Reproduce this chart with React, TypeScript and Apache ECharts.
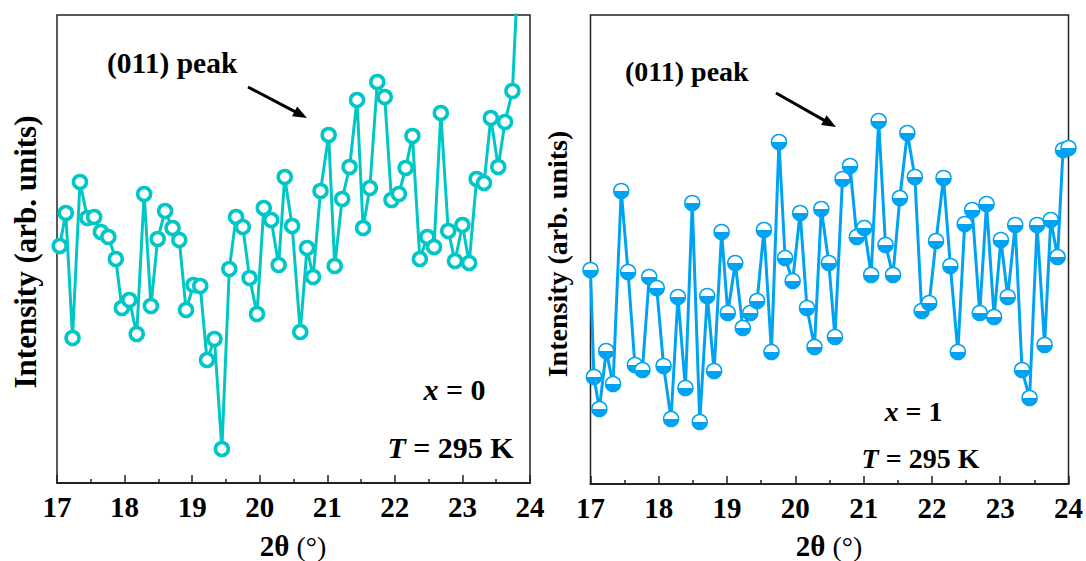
import React, { useEffect, useRef } from "react";
import * as echarts from "echarts";

// 2θ positions (degrees) and intensities (arb. units)
const angleX0 = [
  17.04, 17.13, 17.23, 17.34, 17.45, 17.55, 17.65, 17.76, 17.87, 17.96,
  18.07, 18.18, 18.29, 18.39, 18.49, 18.6, 18.71, 18.81, 18.91, 19.02,
  19.12, 19.22, 19.33, 19.44, 19.55, 19.65, 19.75, 19.85, 19.96, 20.06,
  20.17, 20.28, 20.37, 20.48, 20.6, 20.7, 20.79, 20.9, 21.02, 21.11,
  21.22, 21.33, 21.44, 21.53, 21.63, 21.74, 21.85, 21.95, 22.06, 22.16,
  22.26, 22.37, 22.48, 22.58, 22.68, 22.79, 22.89, 23.0, 23.1, 23.21,
  23.32, 23.42, 23.53, 23.63, 23.74, 23.84,
];
const intensityX0 = [
  237, 270, 145, 301, 265, 266, 251, 246, 224, 175,
  183, 149, 289, 177, 244, 272, 255, 243, 173, 198,
  197, 123, 144, 34, 214, 266, 256, 205, 169, 275,
  263, 218, 306, 257, 151, 235, 206, 292, 348, 217,
  284, 316, 383, 255, 295, 401, 386, 283, 289, 315,
  347, 224, 246, 236, 370, 252, 222, 258, 220, 304,
  300, 365, 316, 361, 392, 537,
];

const angleX1 = [
  17.0, 17.05, 17.13, 17.23, 17.33, 17.45, 17.55, 17.65, 17.76, 17.86,
  17.97, 18.07, 18.18, 18.28, 18.39, 18.49, 18.6, 18.71, 18.81, 18.92,
  19.01, 19.12, 19.23, 19.34, 19.44, 19.54, 19.65, 19.76, 19.85, 19.96,
  20.07, 20.17, 20.28, 20.38, 20.49, 20.58, 20.69, 20.8, 20.9, 21.01,
  21.11, 21.22, 21.32, 21.43, 21.53, 21.64, 21.75, 21.85, 21.96, 22.06,
  22.17, 22.27, 22.38, 22.48, 22.59, 22.7, 22.8, 22.91, 23.01, 23.11,
  23.22, 23.32, 23.43, 23.54, 23.65, 23.74, 23.84, 23.92, 24.0,
];
const intensityX1 = [
  214, 107, 75, 133, 100, 293, 212, 119, 114, 207,
  196, 118, 65, 187, 96, 281, 62, 188, 113, 252,
  171, 221, 156, 171, 183, 254, 132, 342, 226, 203,
  271, 176, 137, 275, 221, 147, 305, 318, 247, 256,
  209, 363, 239, 209, 286, 351, 307, 173, 181, 243,
  306, 218, 132, 260, 274, 171, 280, 167, 244, 187,
  259, 114, 86, 259, 139, 264, 227, 334, 336,
];

const xTickLabels = ["17", "18", "19", "20", "21", "22", "23", "24"];
const xName = "2θ";
const yName = "Intensity (arb. units)";
const peakLabel = "(011) peak";
const compLabels = ["0", "1"];
const tempLabel = "295 K";

const FONT = '"Liberation Serif", "Times New Roman", Times, serif';
const CYAN = "#00C6C6";
const BLUE = "#00A2F2";
const DARK = "#222";

function arrow(x1: number, y1: number, x2: number, y2: number) {
  const dx = x2 - x1;
  const dy = y2 - y1;
  const len = Math.sqrt(dx * dx + dy * dy);
  const ux = dx / len;
  const uy = dy / len;
  const hl = 14;
  const hw = 5.5;
  const bx = x2 - ux * hl;
  const by = y2 - uy * hl;
  return [
    {
      type: "line",
      shape: { x1, y1, x2: bx + ux * 2, y2: by + uy * 2 },
      style: { stroke: "#000", lineWidth: 3 },
    },
    {
      type: "polygon",
      shape: {
        points: [
          [x2, y2],
          [bx - uy * hw, by + ux * hw],
          [bx + uy * hw, by - ux * hw],
        ],
      },
      style: { fill: "#000" },
    },
  ];
}

function text(
  x: number,
  y: number,
  t: string,
  fs: number,
  align: string,
  rotation = 0,
  rich?: any
) {
  return {
    type: "text",
    x,
    y,
    rotation,
    style: {
      text: t,
      fontFamily: FONT,
      fontWeight: "bold",
      fontSize: fs,
      fill: "#000",
      align,
      verticalAlign: "middle",
      rich,
    },
  };
}

function xAxis(gridIndex: number) {
  return {
    type: "value",
    gridIndex,
    min: 17,
    max: 24,
    interval: 1,
    axisLine: { show: true, onZero: false, lineStyle: { color: DARK, width: 2 } },
    axisTick: { show: true, inside: true, length: 8, lineStyle: { color: DARK, width: 1.5 } },
    minorTick: { show: true, splitNumber: 2, length: 4, lineStyle: { color: DARK, width: 1.5 } },
    axisLabel: {
      fontFamily: FONT,
      fontWeight: "bold",
      fontSize: 29,
      color: "#000",
      margin: 9,
      formatter: (v: number) => xTickLabels[Math.round(v) - 17] ?? "",
    },
    splitLine: { show: false },
  };
}

function yAxis(gridIndex: number, max: number) {
  return {
    type: "value",
    gridIndex,
    min: 0,
    max,
    axisLine: { show: false },
    axisTick: { show: false },
    axisLabel: { show: false },
    splitLine: { show: false },
  };
}

export default function App() {
  const ref = useRef<HTMLDivElement>(null);

  useEffect(() => {
    document.body.style.margin = "0";
    if (!ref.current) return;
    const chart = echarts.init(ref.current, null, { renderer: "svg" });

    const halfFill = new echarts.graphic.LinearGradient(0, 0, 0, 1, [
      { offset: 0, color: "#ffffff" },
      { offset: 0.5, color: "#ffffff" },
      { offset: 0.5, color: BLUE },
      { offset: 1, color: BLUE },
    ]);

    const richItalic = (fs: number) => ({
      i: { fontFamily: FONT, fontWeight: "bold", fontStyle: "italic", fontSize: fs, fill: "#000" },
      b: { fontFamily: FONT, fontWeight: "bold", fontSize: fs, fill: "#000" },
    });
    const richName = {
      b: { fontFamily: FONT, fontWeight: "bold", fontSize: 29, fill: "#000" },
      n: { fontFamily: FONT, fontWeight: "normal", fontSize: 28, fill: "#000" },
    };

    const option: any = {
      animation: false,
      backgroundColor: "#fff",
      grid: [
        { left: 57, top: 15, width: 473, height: 468, show: true, borderColor: DARK, borderWidth: 1.5 },
        { left: 590.5, top: 15, width: 479.5, height: 469, show: true, borderColor: DARK, borderWidth: 1.5 },
      ],
      xAxis: [xAxis(0), xAxis(1)],
      yAxis: [yAxis(0, 468), yAxis(1, 469)],
      series: [
        {
          type: "line",
          xAxisIndex: 0,
          yAxisIndex: 0,
          data: angleX0.map((a, i) => [a, intensityX0[i]]),
          symbol: "circle",
          symbolSize: 13,
          showAllSymbol: true,
          clip: true,
          lineStyle: { color: CYAN, width: 3 },
          itemStyle: { color: "#fff", borderColor: CYAN, borderWidth: 3.5 },
          emphasis: { disabled: true },
        },
        {
          type: "line",
          xAxisIndex: 1,
          yAxisIndex: 1,
          data: angleX1.map((a, i) => [a, intensityX1[i]]),
          symbol: "circle",
          symbolSize: 15,
          showAllSymbol: true,
          clip: true,
          lineStyle: { color: BLUE, width: 3 },
          itemStyle: { color: halfFill, borderColor: BLUE, borderWidth: 1.5 },
          emphasis: { disabled: true },
        },
      ],
      graphic: [
        text(25, 252, yName, 31, "center", Math.PI / 2),
        text(557, 254, yName, 28, "center", Math.PI / 2),
        text(293, 546, `{b|${xName}} {n|(°)}`, 29, "center", 0, richName),
        text(829, 546, `{b|${xName}} {n|(°)}`, 29, "center", 0, richName),
        text(107, 63, peakLabel, 29.5, "left"),
        text(625, 71, peakLabel, 28, "left"),
        ...arrow(248, 87, 307, 118),
        ...arrow(776, 93, 836, 127),
        text(454.5, 389, `{i|x}{b| = ${compLabels[0]}}`, 30, "center", 0, richItalic(30)),
        text(450.5, 447, `{i|T}{b| = ${tempLabel}}`, 30, "center", 0, richItalic(30)),
        text(913.5, 411, `{i|x}{b| = ${compLabels[1]}}`, 28, "center", 0, richItalic(28)),
        text(920.5, 458, `{i|T}{b| = ${tempLabel}}`, 28, "center", 0, richItalic(28)),
      ],
    };

    chart.setOption(option);
    return () => chart.dispose();
  }, []);

  return <div ref={ref} style={{ width: 1086, height: 561 }} />;
}
